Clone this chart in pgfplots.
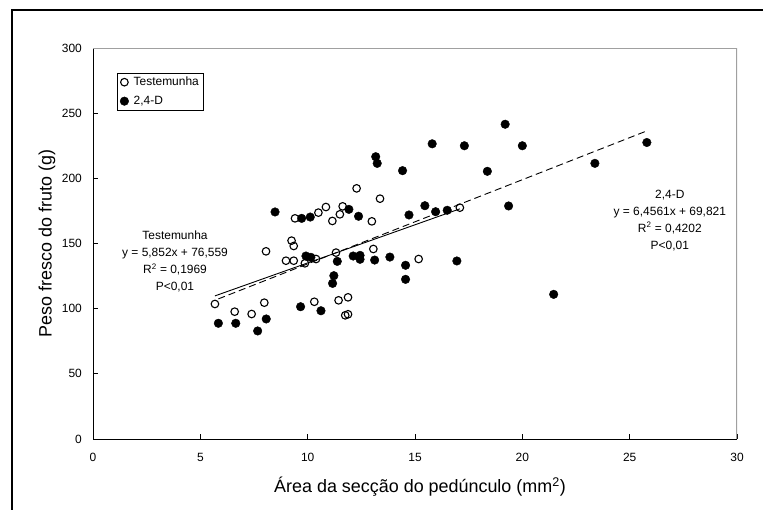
\documentclass[border=0pt]{standalone}
\usepackage{fontspec}
\setmainfont{Liberation Sans}
\usepackage{pgfplots}
\pgfplotsset{compat=1.18}
\definecolor{framegray}{RGB}{160,160,160}

\begin{document}
\begin{tikzpicture}
\useasboundingbox (0bp,0bp) rectangle (763bp,-510bp);
\draw[line width=2bp] (12.3bp,-530bp) -- (12.3bp,-10.3bp) -- (790bp,-10.3bp);
\begin{axis}[
    at={(93bp,-439bp)}, anchor=south west,
    width=644bp, height=391bp, scale only axis,
    xmin=0, xmax=30, ymin=0, ymax=300,
    xtick={0,5,...,30}, ytick={0,50,...,300},
    axis x line*=bottom, axis y line*=left,
    axis line style={line width=0.9bp, -},
    tick align=inside, major tick length=5bp,
    tick style={black, line width=0.8bp},
    /pgf/number format/assume math mode=true,
    tick label style={font=\fontsize{12}{14}\selectfont},
    xticklabel style={anchor=north, inner sep=0pt}, xticklabel shift=13.6bp,
    yticklabel style={anchor=east, inner sep=0pt}, yticklabel shift=11bp,
    xlabel={Área da secção do pedúnculo (mm\textsuperscript{2})},
    ylabel={Peso fresco do fruto (g)},
    label style={font=\fontsize{18}{21}\selectfont},
    xlabel style={at={([yshift=-48bp,xshift=5bp]axis description cs:0.5,0)}, anchor=center},
    ylabel style={at={([xshift=-46bp]axis description cs:0,0.5)}, anchor=center},
    legend style={at={(rel axis cs:0.0368,0.9368)}, anchor=north west,
        draw=black, line width=0.8bp, font=\fontsize{12}{14}\selectfont,
        inner xsep=3bp, inner ysep=2bp, row sep=5bp,
        /tikz/every odd column/.append style={column sep=3bp}},
    legend cell align=left,
    legend image code/.code={\draw[#1] plot coordinates {(0bp,0bp)};},
]
\addplot[only marks, mark=o, mark size=3.8bp, mark options={draw=black, fill=white, line width=1.1bp}]
coordinates {
 (5.68,103.6) (6.60,97.7) (7.39,95.9) (7.98,104.6) (8.06,144.0)
 (8.99,136.8) (9.35,136.8) (9.25,152.2) (9.35,148.1) (9.41,169.3)
 (9.87,134.8) (10.39,138.1) (10.31,105.3) (10.50,173.7) (10.85,178.0)
 (11.15,167.3) (11.32,143.0) (11.44,106.4) (11.50,172.4) (11.63,178.5)
 (11.75,94.9) (11.88,95.7) (11.88,108.7) (12.28,192.3) (12.99,167.0)
 (13.06,145.8) (13.37,184.4) (15.17,138.1) (17.09,177.5)
};
\addlegendentry{Testemunha}
\addplot[only marks, mark=*, mark size=4.3bp, mark options={draw=black, fill=black, line width=0.4bp}]
coordinates {
 (5.84,88.8) (6.65,88.8) (7.67,82.9) (8.07,92.1) (8.48,174.2)
 (9.67,101.5) (9.72,169.3) (9.92,140.4) (10.12,170.3) (10.15,139.4)
 (10.62,98.4) (11.16,119.4) (11.22,125.3) (11.38,136.3) (11.92,176.2)
 (12.12,140.4) (12.37,170.9) (12.44,140.9) (12.44,137.9) (13.12,137.3)
 (13.17,216.6) (13.24,211.5) (13.83,139.6) (14.42,205.9) (14.56,133.3)
 (14.56,122.5) (14.72,171.9) (15.46,179.0) (15.80,226.5) (15.96,174.4)
 (16.50,175.5) (16.95,136.6) (17.30,225.0) (18.37,205.4) (19.20,241.5)
 (19.36,178.8) (20.00,225.0) (21.46,111.0) (23.38,211.5) (25.80,227.5)
};
\addlegendentry{2,4-D}
% trend lines
\addplot[forget plot, black, line width=0.9bp] coordinates {(5.68,109.8) (17.09,176.6)};
\addplot[forget plot, black, line width=0.9bp, dash pattern=on 7bp off 4bp] coordinates {(5.84,107.5) (25.80,236.4)};
\draw[framegray, line width=1.2bp] (rel axis cs:0,1) -- (rel axis cs:1,1) -- (rel axis cs:1,0);
\node[align=center, font=\fontsize{12}{17}\selectfont] at (axis cs:3.82,136.2)
  {Testemunha\\y = 5,852x + 76,559\\R\textsuperscript{2} = 0,1969\\P<0,01};
\node[align=center, font=\fontsize{12}{17}\selectfont] at (axis cs:26.87,167.7)
  {2,4-D\\y = 6,4561x + 69,821\\R\textsuperscript{2} = 0,4202\\P<0,01};
\end{axis}
\end{tikzpicture}
\end{document}
